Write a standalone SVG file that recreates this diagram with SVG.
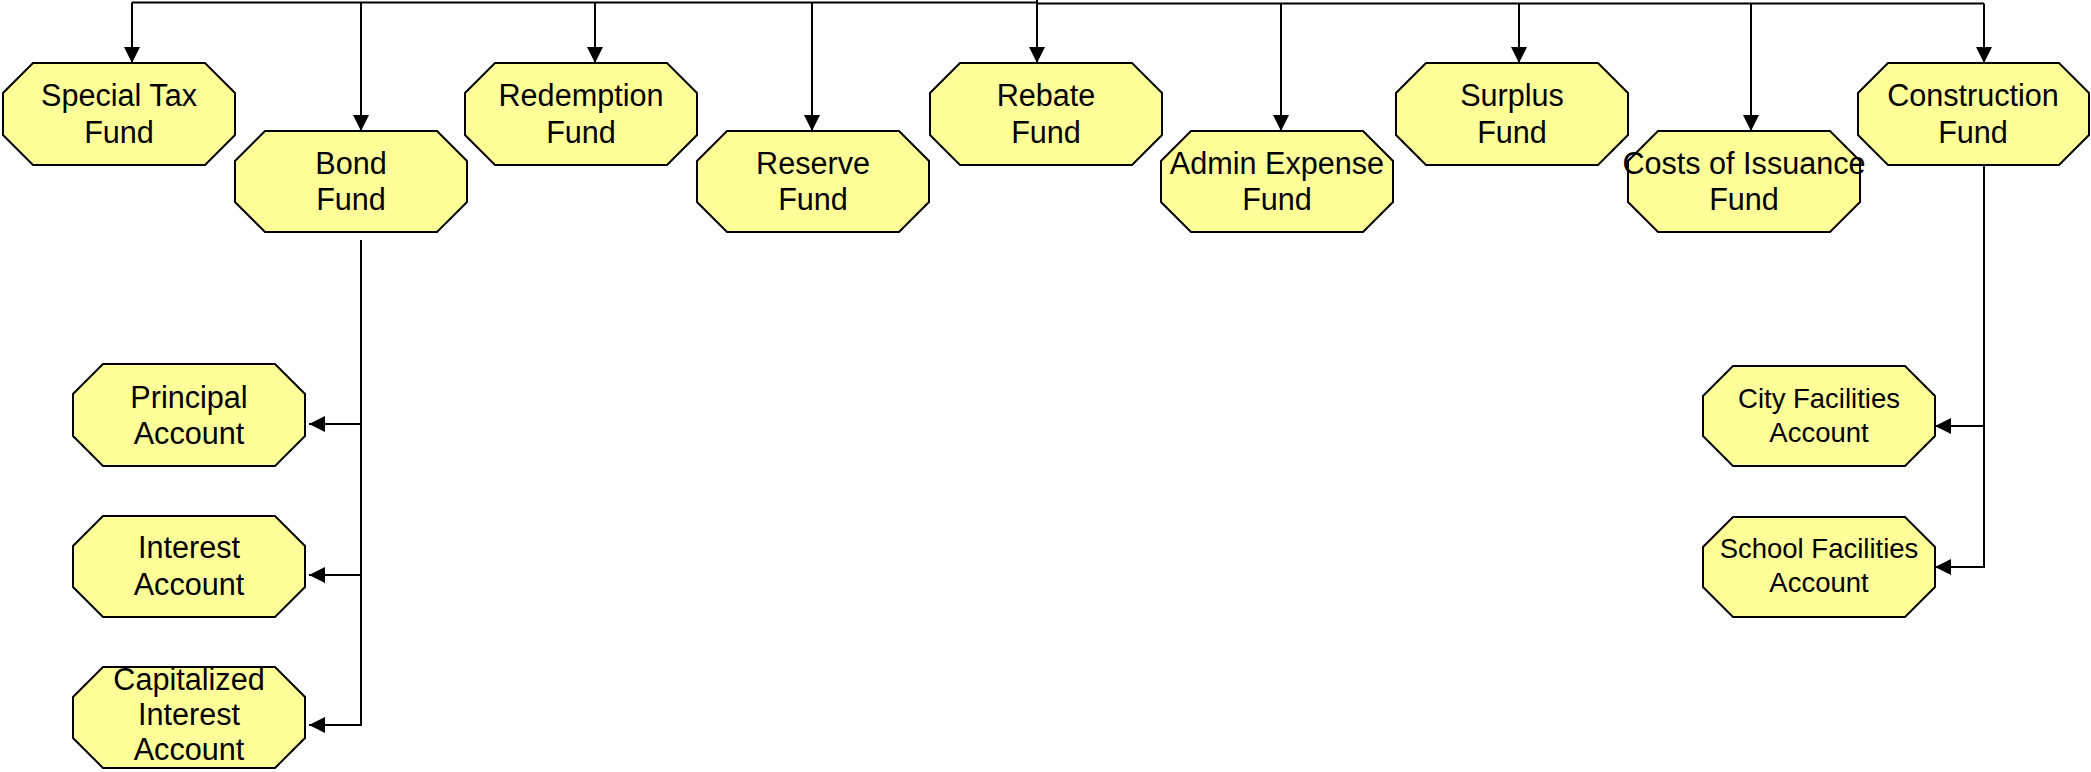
<svg xmlns="http://www.w3.org/2000/svg" width="2091" height="772" viewBox="0 0 2091 772">
<style>
.node polygon{fill:#FFFF99;stroke:#000;stroke-width:2}
.node text{font-family:"Liberation Sans",Arial,sans-serif;font-size:30.6px;fill:#000;text-anchor:middle}
.node text.small{font-size:27.5px}
.conn path{fill:none;stroke:#000;stroke-width:2}
</style>
<defs>
<marker id="arr" viewBox="0 0 16 16" refX="16" refY="8" markerWidth="16" markerHeight="16" markerUnits="userSpaceOnUse" orient="auto">
<path d="M0,0 L16,8 L0,16 z" fill="#000"/>
</marker>
</defs>
<rect width="2091" height="772" fill="#fff"/>
<g class="conn">
<path d="M132,2.5 H1037" stroke="#333"/>
<path d="M1037,3.5 H1984"/>
<path d="M132,2.5 V63" marker-end="url(#arr)"/>
<path d="M361,2.5 V131" marker-end="url(#arr)"/>
<path d="M595,2.5 V63" marker-end="url(#arr)"/>
<path d="M812,2.5 V131" marker-end="url(#arr)"/>
<path d="M1037,0 V63" marker-end="url(#arr)"/>
<path d="M1281,3.5 V131" marker-end="url(#arr)"/>
<path d="M1519,3.5 V63" marker-end="url(#arr)"/>
<path d="M1751,3.5 V131" marker-end="url(#arr)"/>
<path d="M1984,3.5 V63" marker-end="url(#arr)"/>
<path d="M361,240 V725 H309" marker-end="url(#arr)"/>
<path d="M361,424 H309" marker-end="url(#arr)"/>
<path d="M361,575 H309" marker-end="url(#arr)"/>
<path d="M1984,165 V567 H1935" marker-end="url(#arr)"/>
<path d="M1984,426 H1935" marker-end="url(#arr)"/>
</g>
<g id="special-tax-fund" class="node">
<polygon points="33,63 205,63 235,93 235,135 205,165 33,165 3,135 3,93"/>
<text x="119" y="106">Special Tax</text><text x="119" y="143">Fund</text>
</g>
<g id="bond-fund" class="node">
<polygon points="265,131 437,131 467,161 467,202 437,232 265,232 235,202 235,161"/>
<text x="351" y="174">Bond</text><text x="351" y="210">Fund</text>
</g>
<g id="redemption-fund" class="node">
<polygon points="495,63 667,63 697,93 697,135 667,165 495,165 465,135 465,93"/>
<text x="581" y="106">Redemption</text><text x="581" y="143">Fund</text>
</g>
<g id="reserve-fund" class="node">
<polygon points="727,131 899,131 929,161 929,202 899,232 727,232 697,202 697,161"/>
<text x="813" y="174">Reserve</text><text x="813" y="210">Fund</text>
</g>
<g id="rebate-fund" class="node">
<polygon points="960,63 1132,63 1162,93 1162,135 1132,165 960,165 930,135 930,93"/>
<text x="1046" y="106">Rebate</text><text x="1046" y="143">Fund</text>
</g>
<g id="admin-expense-fund" class="node">
<polygon points="1191,131 1363,131 1393,161 1393,202 1363,232 1191,232 1161,202 1161,161"/>
<text x="1277" y="174">Admin Expense</text><text x="1277" y="210">Fund</text>
</g>
<g id="surplus-fund" class="node">
<polygon points="1426,63 1598,63 1628,93 1628,135 1598,165 1426,165 1396,135 1396,93"/>
<text x="1512" y="106">Surplus</text><text x="1512" y="143">Fund</text>
</g>
<g id="costs-of-issuance-fund" class="node">
<polygon points="1658,131 1830,131 1860,161 1860,202 1830,232 1658,232 1628,202 1628,161"/>
<text x="1744" y="174">Costs of Issuance</text><text x="1744" y="210">Fund</text>
</g>
<g id="construction-fund" class="node">
<polygon points="1888,63 2059,63 2089,93 2089,135 2059,165 1888,165 1858,135 1858,93"/>
<text x="1973" y="106">Construction</text><text x="1973" y="143">Fund</text>
</g>
<g id="principal-account" class="node">
<polygon points="103,364 275,364 305,394 305,436 275,466 103,466 73,436 73,394"/>
<text x="189" y="408">Principal</text><text x="189" y="444">Account</text>
</g>
<g id="interest-account" class="node">
<polygon points="103,516 275,516 305,546 305,587 275,617 103,617 73,587 73,546"/>
<text x="189" y="558">Interest</text><text x="189" y="595">Account</text>
</g>
<g id="capitalized-interest-account" class="node">
<polygon points="103,667 275,667 305,697 305,738 275,768 103,768 73,738 73,697"/>
<text x="189" y="690">Capitalized</text><text x="189" y="725">Interest</text><text x="189" y="760">Account</text>
</g>
<g id="city-facilities-account" class="node">
<polygon points="1733,366 1905,366 1935,396 1935,436 1905,466 1733,466 1703,436 1703,396"/>
<text class="small" x="1819" y="408">City Facilities</text><text class="small" x="1819" y="442">Account</text>
</g>
<g id="school-facilities-account" class="node">
<polygon points="1733,517 1905,517 1935,547 1935,587 1905,617 1733,617 1703,587 1703,547"/>
<text class="small" x="1819" y="558">School Facilities</text><text class="small" x="1819" y="592">Account</text>
</g>
</svg>
